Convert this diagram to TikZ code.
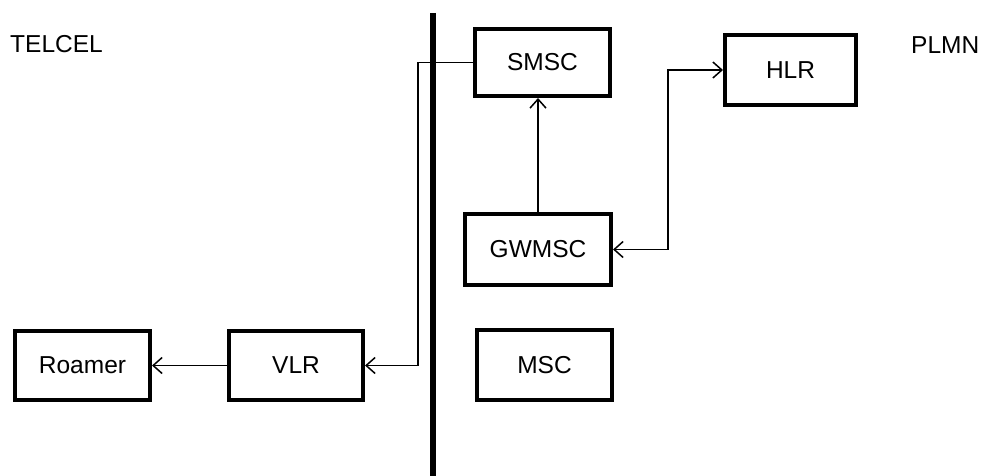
\documentclass[tikz,border=0pt]{standalone}
\usepackage{fontspec}
\setmainfont{Liberation Sans}
\usepackage{tikz}
\usetikzlibrary{positioning}
\usetikzlibrary{arrows.meta}
\tikzset{basic/.style={draw,line width=4pt,fill=white,font=\fontsize{24.5}{28}\selectfont,inner sep=0pt}}
\tikzset{unit/.style={basic,rectangle,minimum width=135pt,minimum height=69pt}}
\tikzset{link/.style={line width=1.5pt}}
\tikzset{netname/.style={font=\fontsize{24.5}{28}\selectfont,anchor=west,inner sep=0pt}}

\begin{document}
\begin{tikzpicture}[x=1pt,y=-1pt,>={Straight Barb[length=9pt,width=16pt]}]
                \useasboundingbox (0,0) rectangle (982,476);
                \coordinate (divtop) at (432.5,13);
                \coordinate (divbot) at (432.5,476);
                \draw[line width=6pt] (divtop) -- (divbot);
                \node[netname] (telcel) at (10,44.5) {TELCEL};
                \node[netname] (plmn) at (911,45) {PLMN};
                \node[unit,minimum height=67pt] (smsc) at (542.5,62.5) {SMSC};
                \node[unit,minimum width=131pt,minimum height=70pt] (hlr) at (790.5,70) {HLR};
                \node[unit,minimum width=146pt,minimum height=71pt] (gwmsc) at (538,249.5) {GWMSC};
                \node[unit,minimum height=70pt] (msc) at (544.5,365) {MSC};
                \node[unit,minimum width=134pt] (vlr) at (296,365.5) {VLR};
                \node[unit] (roamer) at (82.5,365.5) {Roamer};
                    \path[draw,link,->] (smsc.west) -- ++(-55,0) |- (vlr.east);
                    \path[draw,link,->] (vlr) -- (roamer);
                    \path[draw,link,->] (gwmsc.north) -- (gwmsc.north |- smsc.south);
                    \path[draw,link,<->] (gwmsc.east) -- ++(55,0) |- (hlr.west);
            \end{tikzpicture}
\end{document}
